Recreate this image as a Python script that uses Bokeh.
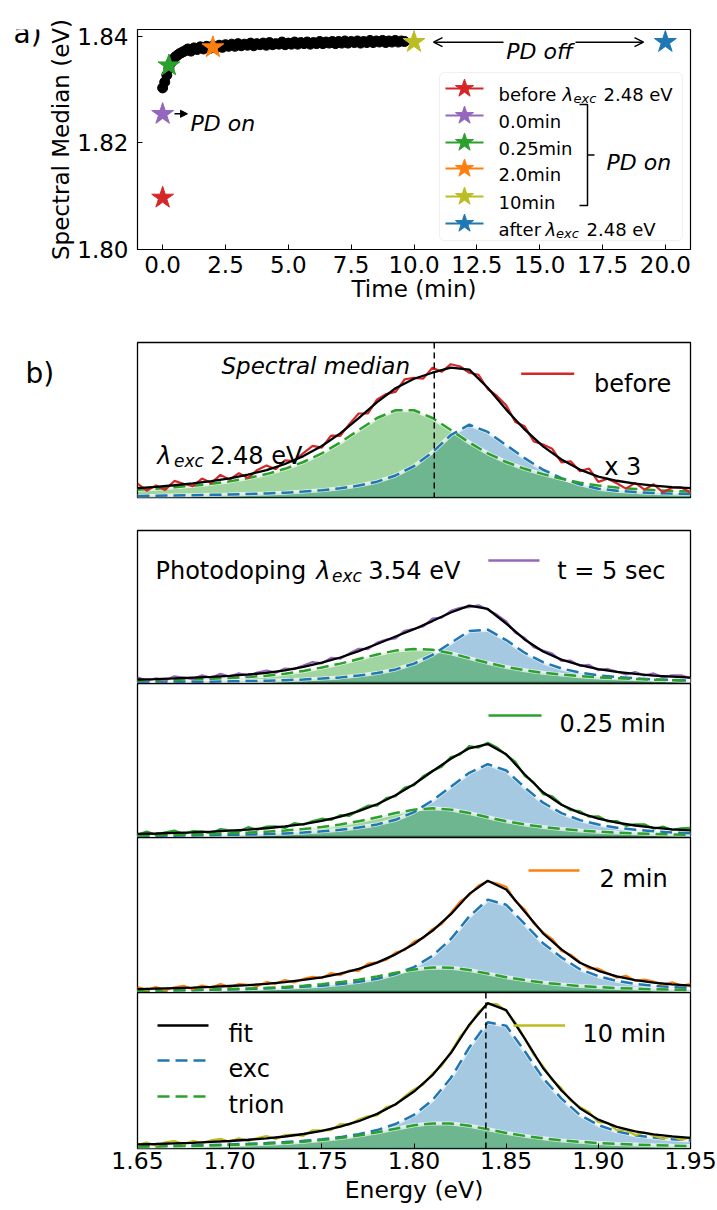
import math
from bokeh.plotting import figure
from bokeh.models import (Range1d, Label, Arrow, OpenHead, NormalHead, FixedTicker,
                          BoxAnnotation, Span, ColumnDataSource)
from bokeh.layouts import column, row
from bokeh.embed import file_html
from bokeh.resources import INLINE

FONT = "DejaVu Sans"

# ----------------------------- DATA: panel a -----------------------------
time_min = [0.0, 0.083, 0.167, 0.25, 0.333, 0.417, 0.5, 0.583, 0.667, 0.75, 0.833, 0.917,
            1.0, 1.125, 1.25, 1.375, 1.5, 1.625, 1.75, 1.875, 2.0, 2.125, 2.25, 2.375, 2.5,
            2.625, 2.75, 2.875, 3.0, 3.125, 3.25, 3.375, 3.5, 3.625, 3.75, 3.875, 4.0, 4.125,
            4.25, 4.375, 4.5, 4.625, 4.75, 4.875, 5.0, 5.125, 5.25, 5.375, 5.5, 5.625, 5.75,
            5.875, 6.0, 6.125, 6.25, 6.375, 6.5, 6.625, 6.75, 6.875, 7.0, 7.125, 7.25, 7.375,
            7.5, 7.625, 7.75, 7.875, 8.0, 8.125, 8.25, 8.375, 8.5, 8.625, 8.75, 8.875, 9.0,
            9.125, 9.25, 9.375, 9.5, 9.625]
median_eV = [1.8303, 1.8314, 1.8327, 1.8340, 1.8350, 1.8356, 1.8361, 1.8364, 1.8367, 1.8369,
             1.8371, 1.8373,
             1.8376, 1.8372, 1.8378, 1.8375, 1.8380, 1.8376, 1.8381, 1.8377,
             1.8382, 1.8378, 1.8383, 1.8379, 1.8384, 1.8381, 1.8385, 1.8381,
             1.8386, 1.8382, 1.8385, 1.8383, 1.8387, 1.8382, 1.8386, 1.8384,
             1.8387, 1.8383, 1.8388, 1.8384, 1.8386, 1.8385, 1.8389, 1.8384,
             1.8387, 1.8385, 1.8389, 1.8385, 1.8388, 1.8386, 1.8389, 1.8385,
             1.8388, 1.8386, 1.8390, 1.8386, 1.8389, 1.8387, 1.8390, 1.8386,
             1.8390, 1.8387, 1.8391, 1.8387, 1.8390, 1.8388, 1.8391, 1.8387,
             1.8390, 1.8388, 1.8392, 1.8388, 1.8391, 1.8389, 1.8392, 1.8388,
             1.8391, 1.8389, 1.8392, 1.8389, 1.8391, 1.8390]
star_labels = ["before", "0.0min", "0.25min", "2.0min", "10min", "after"]
star_times = [0.0, 0.0, 0.25, 2.0, 10.0, 20.0]
star_medians = [1.8097, 1.8254, 1.8345, 1.8379, 1.8389, 1.8389]
star_colors = ["#d62728", "#9467bd", "#2ca02c", "#ff7f0e", "#bcbd22", "#1f77b4"]

time_ticks = [0.0, 2.5, 5.0, 7.5, 10.0, 12.5, 15.0, 17.5, 20.0]
time_tick_labels = ["0.0", "2.5", "5.0", "7.5", "10.0", "12.5", "15.0", "17.5", "20.0"]
median_ticks = [1.80, 1.82, 1.84]
median_tick_labels = ["1.80", "1.82", "1.84"]

# ----------------------------- DATA: panel b -----------------------------
energy_fit = [1.65, 1.66, 1.67, 1.68, 1.69, 1.70, 1.71, 1.72, 1.73, 1.74, 1.75, 1.76, 1.77, 1.78,
              1.79, 1.80, 1.81, 1.82, 1.83, 1.84, 1.85, 1.86, 1.87, 1.88, 1.89, 1.90, 1.91, 1.92,
              1.93, 1.94, 1.95]
energy_data = [1.650, 1.655, 1.660, 1.665, 1.670, 1.675, 1.680, 1.685, 1.690, 1.695, 1.700,
               1.705, 1.710, 1.715, 1.720, 1.725, 1.730, 1.735, 1.740, 1.745, 1.750, 1.755,
               1.760, 1.765, 1.770, 1.775, 1.780, 1.785, 1.790, 1.795, 1.800, 1.805, 1.810,
               1.815, 1.820, 1.825, 1.830, 1.835, 1.840, 1.845, 1.850, 1.855, 1.860, 1.865,
               1.870, 1.875, 1.880, 1.885, 1.890, 1.895, 1.900, 1.905, 1.910, 1.915, 1.920,
               1.925, 1.930, 1.935, 1.940, 1.945, 1.950]
energy_ticks = [1.65, 1.70, 1.75, 1.80, 1.85, 1.90, 1.95]
energy_tick_labels = ["1.65", "1.70", "1.75", "1.80", "1.85", "1.90", "1.95"]

# before (x 3)
trion_before = [0.050, 0.057, 0.066, 0.076, 0.088, 0.104, 0.125, 0.151, 0.185, 0.229, 0.285,
                0.355, 0.435, 0.513, 0.563, 0.563, 0.513, 0.435, 0.355, 0.285, 0.229, 0.185,
                0.151, 0.120, 0.095, 0.078, 0.064, 0.055, 0.048, 0.042, 0.038]
exc_before = [0.010, 0.011, 0.013, 0.015, 0.017, 0.019, 0.023, 0.026, 0.031, 0.038, 0.047,
              0.059, 0.077, 0.102, 0.142, 0.203, 0.292, 0.403, 0.470, 0.423, 0.338, 0.254,
              0.179, 0.125, 0.085, 0.057, 0.044, 0.035, 0.029, 0.025, 0.022]
fit_before = [0.060, 0.068, 0.079, 0.091, 0.105, 0.123, 0.148, 0.177, 0.216, 0.267, 0.332,
              0.414, 0.512, 0.615, 0.705, 0.766, 0.805, 0.838, 0.825, 0.708, 0.567, 0.439,
              0.330, 0.245, 0.180, 0.135, 0.108, 0.090, 0.077, 0.067, 0.060]
data_before = [0.090, 0.044, 0.078, 0.049, 0.107, 0.089, 0.073, 0.122, 0.093, 0.146,
               0.115, 0.157, 0.126, 0.178, 0.207, 0.182, 0.240, 0.235, 0.287, 0.333,
               0.322, 0.399, 0.398, 0.475, 0.542, 0.543, 0.633, 0.668, 0.681, 0.763,
               0.772, 0.767, 0.837, 0.811, 0.860, 0.845, 0.805, 0.792, 0.700, 0.655,
               0.595, 0.487, 0.459, 0.361, 0.342, 0.314, 0.227, 0.234, 0.170, 0.187,
               0.101, 0.121, 0.092, 0.057, 0.094, 0.051, 0.085, 0.034, 0.063, 0.065,
               0.032]
# t = 5 sec
trion_5s = [0.018, 0.020, 0.023, 0.027, 0.031, 0.036, 0.043, 0.051, 0.064, 0.082, 0.105,
            0.130, 0.160, 0.190, 0.215, 0.225, 0.221, 0.198, 0.166, 0.135, 0.108, 0.087,
            0.070, 0.058, 0.048, 0.040, 0.034, 0.029, 0.025, 0.022, 0.019]
exc_5s = [0.008, 0.009, 0.010, 0.011, 0.012, 0.014, 0.016, 0.018, 0.022, 0.026, 0.032,
          0.040, 0.052, 0.068, 0.092, 0.130, 0.187, 0.266, 0.343, 0.352, 0.284, 0.201,
          0.139, 0.098, 0.072, 0.054, 0.042, 0.034, 0.027, 0.023, 0.019]
fit_5s = [0.026, 0.029, 0.033, 0.038, 0.043, 0.050, 0.059, 0.069, 0.086, 0.108, 0.137,
          0.170, 0.212, 0.258, 0.307, 0.355, 0.408, 0.464, 0.509, 0.487, 0.392, 0.288,
          0.209, 0.156, 0.120, 0.094, 0.076, 0.063, 0.052, 0.045, 0.038]
data_5s = [0.041, 0.018, 0.034, 0.019, 0.047, 0.038, 0.029, 0.053, 0.037, 0.063,
           0.046, 0.066, 0.048, 0.072, 0.084, 0.071, 0.098, 0.094, 0.118, 0.140,
           0.132, 0.167, 0.162, 0.197, 0.227, 0.225, 0.267, 0.287, 0.295, 0.345,
           0.358, 0.373, 0.424, 0.431, 0.475, 0.494, 0.499, 0.511, 0.483, 0.449,
           0.406, 0.332, 0.298, 0.237, 0.215, 0.196, 0.147, 0.149, 0.115, 0.122,
           0.087, 0.095, 0.078, 0.059, 0.075, 0.052, 0.066, 0.040, 0.053, 0.053,
           0.034]
# 0.25 min
trion_025 = [0.014, 0.016, 0.018, 0.020, 0.023, 0.027, 0.032, 0.038, 0.046, 0.055, 0.068,
             0.085, 0.106, 0.131, 0.159, 0.181, 0.190, 0.181, 0.159, 0.131, 0.106, 0.085,
             0.068, 0.055, 0.046, 0.038, 0.032, 0.027, 0.023, 0.020, 0.018]
exc_025 = [0.009, 0.010, 0.012, 0.013, 0.015, 0.017, 0.019, 0.022, 0.026, 0.032, 0.040,
           0.050, 0.065, 0.085, 0.115, 0.165, 0.240, 0.330, 0.420, 0.476, 0.435, 0.326,
           0.226, 0.158, 0.113, 0.084, 0.064, 0.051, 0.041, 0.033, 0.028]
fit_025 = [0.023, 0.026, 0.030, 0.033, 0.038, 0.044, 0.051, 0.060, 0.072, 0.087, 0.108,
           0.135, 0.171, 0.216, 0.274, 0.346, 0.430, 0.511, 0.579, 0.607, 0.541, 0.411,
           0.294, 0.213, 0.159, 0.122, 0.096, 0.078, 0.064, 0.053, 0.046]
data_025 = [0.018, 0.038, 0.018, 0.034, 0.045, 0.022, 0.042, 0.040, 0.026, 0.055,
            0.047, 0.039, 0.067, 0.051, 0.071, 0.073, 0.062, 0.093, 0.083, 0.107,
            0.122, 0.114, 0.145, 0.141, 0.177, 0.207, 0.207, 0.256, 0.269, 0.325,
            0.339, 0.398, 0.432, 0.460, 0.523, 0.539, 0.593, 0.584, 0.615, 0.585,
            0.537, 0.491, 0.401, 0.358, 0.282, 0.268, 0.215, 0.177, 0.171, 0.135,
            0.138, 0.105, 0.107, 0.076, 0.086, 0.086, 0.057, 0.071, 0.050, 0.060,
            0.063]
# 2 min
trion_2m = [0.011, 0.013, 0.015, 0.016, 0.019, 0.022, 0.026, 0.030, 0.036, 0.044, 0.054,
            0.067, 0.083, 0.104, 0.127, 0.149, 0.162, 0.160, 0.145, 0.122, 0.099, 0.080,
            0.064, 0.052, 0.042, 0.035, 0.029, 0.025, 0.021, 0.018, 0.016]
exc_2m = [0.011, 0.012, 0.013, 0.015, 0.017, 0.020, 0.022, 0.026, 0.031, 0.037, 0.044,
          0.055, 0.069, 0.089, 0.119, 0.164, 0.236, 0.345, 0.491, 0.599, 0.566, 0.443,
          0.318, 0.226, 0.150, 0.105, 0.075, 0.055, 0.043, 0.035, 0.029]
fit_2m = [0.022, 0.025, 0.028, 0.031, 0.036, 0.042, 0.048, 0.056, 0.067, 0.081, 0.098,
          0.122, 0.152, 0.193, 0.246, 0.313, 0.398, 0.505, 0.636, 0.721, 0.665, 0.523,
          0.382, 0.278, 0.192, 0.140, 0.104, 0.080, 0.064, 0.053, 0.045]
data_2m = [0.036, 0.016, 0.035, 0.015, 0.034, 0.043, 0.022, 0.045, 0.031, 0.054,
           0.035, 0.055, 0.050, 0.041, 0.068, 0.056, 0.081, 0.065, 0.089, 0.101,
           0.094, 0.125, 0.112, 0.142, 0.140, 0.187, 0.195, 0.211, 0.258, 0.274,
           0.329, 0.352, 0.409, 0.441, 0.513, 0.586, 0.629, 0.691, 0.718, 0.703,
           0.682, 0.589, 0.536, 0.445, 0.388, 0.345, 0.268, 0.244, 0.196, 0.154,
           0.154, 0.125, 0.095, 0.108, 0.075, 0.083, 0.071, 0.049, 0.066, 0.045,
           0.054]
# 10 min
trion_10m = [0.011, 0.013, 0.015, 0.016, 0.019, 0.022, 0.026, 0.030, 0.036, 0.044, 0.054,
             0.067, 0.083, 0.104, 0.127, 0.149, 0.161, 0.160, 0.146, 0.123, 0.100, 0.081,
             0.065, 0.052, 0.043, 0.035, 0.029, 0.025, 0.021, 0.018, 0.016]
exc_10m = [0.015, 0.016, 0.018, 0.020, 0.023, 0.026, 0.030, 0.035, 0.041, 0.049, 0.059,
           0.073, 0.092, 0.118, 0.157, 0.216, 0.309, 0.452, 0.648, 0.809, 0.787, 0.625,
           0.451, 0.320, 0.215, 0.150, 0.110, 0.085, 0.070, 0.060, 0.052]
fit_10m = [0.026, 0.029, 0.033, 0.036, 0.042, 0.048, 0.056, 0.065, 0.077, 0.093, 0.113,
           0.140, 0.175, 0.222, 0.284, 0.365, 0.470, 0.612, 0.794, 0.932, 0.887, 0.706,
           0.516, 0.372, 0.258, 0.185, 0.139, 0.110, 0.091, 0.078, 0.068]
data_10m = [0.022, 0.039, 0.018, 0.039, 0.048, 0.028, 0.048, 0.036, 0.052, 0.062,
            0.043, 0.065, 0.048, 0.067, 0.080, 0.061, 0.086, 0.089, 0.081, 0.117,
            0.116, 0.118, 0.156, 0.153, 0.186, 0.206, 0.212, 0.266, 0.280, 0.334,
            0.379, 0.410, 0.480, 0.529, 0.618, 0.716, 0.785, 0.874, 0.925, 0.925,
            0.880, 0.807, 0.708, 0.600, 0.528, 0.438, 0.386, 0.306, 0.266, 0.233,
            0.169, 0.165, 0.117, 0.118, 0.086, 0.103, 0.081, 0.064, 0.078, 0.055,
            0.072]
spectral_median_before = 1.811
spectral_median_10min = 1.839

# ----------------------------- helpers -----------------------------
def txt(p, x, y, s, size, style="normal", align="left", baseline="alphabetic", angle=0.0):
    p.add_layout(Label(x=x, y=y, text=s, text_font=FONT, text_font_size=f"{size}px",
                       text_font_style=style, text_align=align, text_baseline=baseline,
                       angle=angle, text_color="black"))


def style_axis(ax, ticks, labels, size="23px"):
    ax.ticker = FixedTicker(ticks=ticks)
    ax.major_label_overrides = {t: l for t, l in zip(ticks, labels)}
    ax.major_tick_in = 5
    ax.major_tick_out = 0
    ax.major_tick_line_color = "black"
    ax.major_tick_line_width = 1
    ax.minor_tick_line_color = None
    ax.axis_line_color = None
    ax.major_label_text_font = FONT
    ax.major_label_text_font_size = size
    ax.major_label_text_color = "black"
    ax.axis_label_text_font = FONT
    ax.axis_label_text_font_size = size
    ax.axis_label_text_font_style = "normal"
    ax.axis_label_text_color = "black"


def text_canvas(w, h):
    """plain canvas (pixel coordinates, y measured from the top) for loose texts"""
    f = figure(width=w, height=h, min_border=0, title=None, x_range=Range1d(0, w),
               y_range=Range1d(h, 0), x_axis_location=None, y_axis_location=None,
               output_backend="svg", toolbar_location=None)
    f.outline_line_color = None
    f.grid.visible = False
    return f


# ----------------------------- panel a -----------------------------
XA = (-1.0, 21.0)
YA = (1.80, 1.84125)
A_LEFT, A_TOP, A_W, A_H = 137, 29, 553, 220
TAG_A_W = 44


def axp(px):
    return XA[0] + (px - A_LEFT) * (XA[1] - XA[0]) / A_W


def ayp(py):
    return YA[1] - (py - A_TOP) * (YA[1] - YA[0]) / A_H


pa = figure(frame_width=A_W, frame_height=A_H, min_border_left=A_LEFT - TAG_A_W,
            min_border_right=27, min_border_top=29, min_border_bottom=71,
            x_range=Range1d(*XA), y_range=Range1d(*YA), output_backend="svg",
            toolbar_location=None)
pa.grid.visible = False
pa.outline_line_color = "black"
pa.outline_line_width = 1.2
style_axis(pa.xaxis[0], time_ticks, time_tick_labels)
style_axis(pa.yaxis[0], median_ticks, median_tick_labels)
pa.xaxis.axis_label = "Time (min)"
pa.yaxis.axis_label = "Spectral Median (eV)"
pa.xaxis.major_label_standoff = 6
pa.xaxis.axis_label_standoff = 0
pa.yaxis.major_label_standoff = 9
pa.yaxis.axis_label_standoff = 0

pa.scatter(time_min, median_eV, size=10, color="black")
star_src = ColumnDataSource(dict(x=star_times, y=star_medians, c=star_colors))
pa.scatter("x", "y", source=star_src, marker="star", size=23, fill_color="c", line_color="c")

# legend box
pa.add_layout(BoxAnnotation(left=axp(439), right=axp(682), top=ayp(72), bottom=ayp(240),
                            fill_color="white", fill_alpha=0.8, line_color="#cccccc",
                            line_width=1, border_radius=5, level="underlay"))
rows_y = [88, 115, 142, 168, 196, 223]
pa.segment(x0=[axp(445)] * 6, y0=[ayp(r) for r in rows_y], x1=[axp(483)] * 6,
           y1=[ayp(r) for r in rows_y], line_color=star_colors, line_width=2)
pa.scatter([axp(464)] * 6, [ayp(r) for r in rows_y], marker="star", size=19,
           fill_color=star_colors, line_color=star_colors)
LG = 18
txt(pa, axp(498), ayp(rows_y[0] + 6.3), "before", LG)
txt(pa, axp(562), ayp(rows_y[0] + 6.3), "λ", LG, "italic")
txt(pa, axp(573), ayp(rows_y[0] + 10.3), "exc", 13, "italic")
txt(pa, axp(603), ayp(rows_y[0] + 6.3), "2.48 eV", LG)
for k in range(1, 5):
    txt(pa, axp(498), ayp(rows_y[k] + 6.3), star_labels[k], LG)
txt(pa, axp(498), ayp(rows_y[5] + 6.3), "after", LG)
txt(pa, axp(545), ayp(rows_y[5] + 6.3), "λ", LG, "italic")
txt(pa, axp(555.5), ayp(rows_y[5] + 10.3), "exc", 13, "italic")
txt(pa, axp(586), ayp(rows_y[5] + 6.3), "2.48 eV", LG)

# bracket + PD on
pa.multi_line(xs=[[axp(579), axp(587), axp(587), axp(579)], [axp(587), axp(594)]],
              ys=[[ayp(104), ayp(104), ayp(205), ayp(205)], [ayp(154.5), ayp(154.5)]],
              line_color="black", line_width=1.5)
txt(pa, axp(606), ayp(161.7), "PD on", 22, "italic")

# PD on arrow near purple star
pa.add_layout(Arrow(end=NormalHead(size=7, fill_color="black", line_color="black"),
                    x_start=axp(174), y_start=ayp(113.3), x_end=axp(187), y_end=ayp(113.3),
                    line_width=1.5, line_color="black"))
txt(pa, axp(190), ayp(123.3), "PD on", 22, "italic")

# PD off double arrow
pa.add_layout(Arrow(end=OpenHead(size=9, line_width=1.5, line_color="black"),
                    x_start=axp(503), y_start=ayp(41.7), x_end=axp(433), y_end=ayp(41.7),
                    line_width=1.5, line_color="black"))
pa.add_layout(Arrow(end=OpenHead(size=9, line_width=1.5, line_color="black"),
                    x_start=axp(575), y_start=ayp(41.7), x_end=axp(643), y_end=ayp(41.7),
                    line_width=1.5, line_color="black"))
txt(pa, axp(539), ayp(51), "PD off", 22, "italic", align="center")

# panel letter (position corrected for the offset seen in the rendered canvas)
tag_a = text_canvas(TAG_A_W, 320)
txt(tag_a, 13, 6, "a)", 28)

# ----------------------------- panel b -----------------------------
E0, E1 = 1.65, 1.95
B_LEFT, B_W = 137, 553
TAG_B_W = 60


def bxp(px):
    return E0 + (px - B_LEFT) * (E1 - E0) / B_W


def make_b(top, h, bt, bb, left=137, axis=False):
    kw = dict(frame_width=B_W, frame_height=h, min_border_left=left, min_border_right=27,
              min_border_top=bt, x_range=Range1d(E0, E1), y_range=Range1d(0, 1),
              output_backend="svg", toolbar_location=None, y_axis_location=None)
    if axis:
        kw.update(min_border_bottom=40, x_axis_location="below")
    else:
        kw.update(min_border_bottom=bb, x_axis_location=None)
    p = figure(**kw)
    p.outline_line_color = "black"
    p.outline_line_width = 1.3
    p.grid.visible = False

    def byp(py):
        return (top + h - py) / h
    return p, byp


def draw_spectrum(p, exc, trion, fit, data, color):
    p.varea(x=energy_fit, y1=0, y2=exc, fill_color="#1f77b4", fill_alpha=0.4)
    p.varea(x=energy_fit, y1=0, y2=trion, fill_color="#2ca02c", fill_alpha=0.45)
    p.line(energy_fit, exc, color="white", line_width=4, alpha=0.7)
    p.line(energy_fit, trion, color="white", line_width=4, alpha=0.7)
    p.line(energy_fit, exc, color="#1f77b4", line_width=2.5, line_dash="12 6")
    p.line(energy_fit, trion, color="#2ca02c", line_width=2.5, line_dash="12 6")
    p.line(energy_data, data, color=color, line_width=2.2)
    p.line(energy_fit, fit, color="black", line_width=2.3)


# B1 - before (page y 320..529; "PD on" sits in its bottom border)
p1, by1 = make_b(342, 155, 22, 32, left=B_LEFT - TAG_B_W)
draw_spectrum(p1, exc_before, trion_before, fit_before, data_before, "#d62728")
p1.add_layout(Span(location=spectral_median_before, dimension="height", line_color="black",
                   line_dash="6 4", line_width=1.5))
txt(p1, bxp(221), by1(365), "Spectral median", 23, "italic")
txt(p1, bxp(156.7), by1(455.5), "λ", 24, "italic")
txt(p1, bxp(173.5), by1(460.5), "exc", 17, "italic")
txt(p1, bxp(209.7), by1(455.5), "2.48 eV", 24)
txt(p1, bxp(603.7), by1(466.7), "x 3", 24)
p1.segment(x0=[bxp(520.7)], y0=[by1(373.3)], x1=[bxp(573.7)], y1=[by1(373.3)],
           line_color="#d62728", line_width=2.5)
txt(p1, bxp(593.5), by1(383.3), "before", 24)
txt(p1, bxp(195), by1(517.5), "PD on", 23, "italic")
tag_b = text_canvas(TAG_B_W, 209)
txt(tag_b, 25, 41.7, "b)", 28)

# B2 - 5 sec (page y 529..683)
p2, by2 = make_b(530, 153, 1, 0)
draw_spectrum(p2, exc_5s, trion_5s, fit_5s, data_5s, "#9467bd")
txt(p2, bxp(155), by2(570.7), "Photodoping", 24)
txt(p2, bxp(315.7), by2(570.7), "λ", 24, "italic")
txt(p2, bxp(331.5), by2(575.7), "exc", 17, "italic")
txt(p2, bxp(367.7), by2(570.7), "3.54 eV", 24)
p2.segment(x0=[bxp(487.8)], y0=[by2(560)], x1=[bxp(539)], y1=[by2(560)],
           line_color="#9467bd", line_width=2.5)
txt(p2, bxp(556.7), by2(570), "t = 5 sec", 24)

# B3 - 0.25 min
p3, by3 = make_b(683, 154, 0, 0)
draw_spectrum(p3, exc_025, trion_025, fit_025, data_025, "#2ca02c")
p3.segment(x0=[bxp(488)], y0=[by3(715)], x1=[bxp(541)], y1=[by3(715)],
           line_color="#2ca02c", line_width=2.5)
txt(p3, bxp(559), by3(723.3), "0.25 min", 24)
txt(p3, bxp(116), by3(760), "PL intensity", 24, align="center", baseline="middle",
    angle=math.pi / 2)

# B4 - 2 min
p4, by4 = make_b(837, 155, 0, 0)
draw_spectrum(p4, exc_2m, trion_2m, fit_2m, data_2m, "#ff7f0e")
p4.segment(x0=[bxp(528)], y0=[by4(870)], x1=[bxp(579)], y1=[by4(870)],
           line_color="#ff7f0e", line_width=2.5)
txt(p4, bxp(599), by4(878.3), "2 min", 24)

# B5 - 10 min
p5, by5 = make_b(992, 156, 0, 0, axis=True)
draw_spectrum(p5, exc_10m, trion_10m, fit_10m, data_10m, "#bcbd22")
p5.add_layout(Span(location=spectral_median_10min, dimension="height", line_color="black",
                   line_dash="6 4", line_width=1.5))
style_axis(p5.xaxis[0], energy_ticks, energy_tick_labels, "23.5px")
p5.xaxis.axis_label = "Energy (eV)"
p5.xaxis.major_label_standoff = 3
p5.xaxis.axis_label_standoff = 4
p5.segment(x0=[bxp(513)], y0=[by5(1025)], x1=[bxp(564.6)], y1=[by5(1025)],
           line_color="#bcbd22", line_width=2.5)
txt(p5, bxp(582), by5(1033.3), "10 min", 24)
p5.segment(x0=[bxp(157)], y0=[by5(1025)], x1=[bxp(208)], y1=[by5(1025)],
           line_color="black", line_width=2.5)
p5.segment(x0=[bxp(157)], y0=[by5(1060)], x1=[bxp(208)], y1=[by5(1060)],
           line_color="#1f77b4", line_width=2.5, line_dash="12 6")
p5.segment(x0=[bxp(157)], y0=[by5(1096)], x1=[bxp(208)], y1=[by5(1096)],
           line_color="#2ca02c", line_width=2.5, line_dash="12 6")
txt(p5, bxp(228), by5(1033), "fit", 24)
txt(p5, bxp(228), by5(1068), "exc", 24)
txt(p5, bxp(228), by5(1104), "trion", 24)

layout = column(row(tag_a, pa, spacing=0), row(tag_b, p1, spacing=0), p2, p3, p4, p5,
                spacing=0)
open("out.html", "w").write(file_html(layout, INLINE))
